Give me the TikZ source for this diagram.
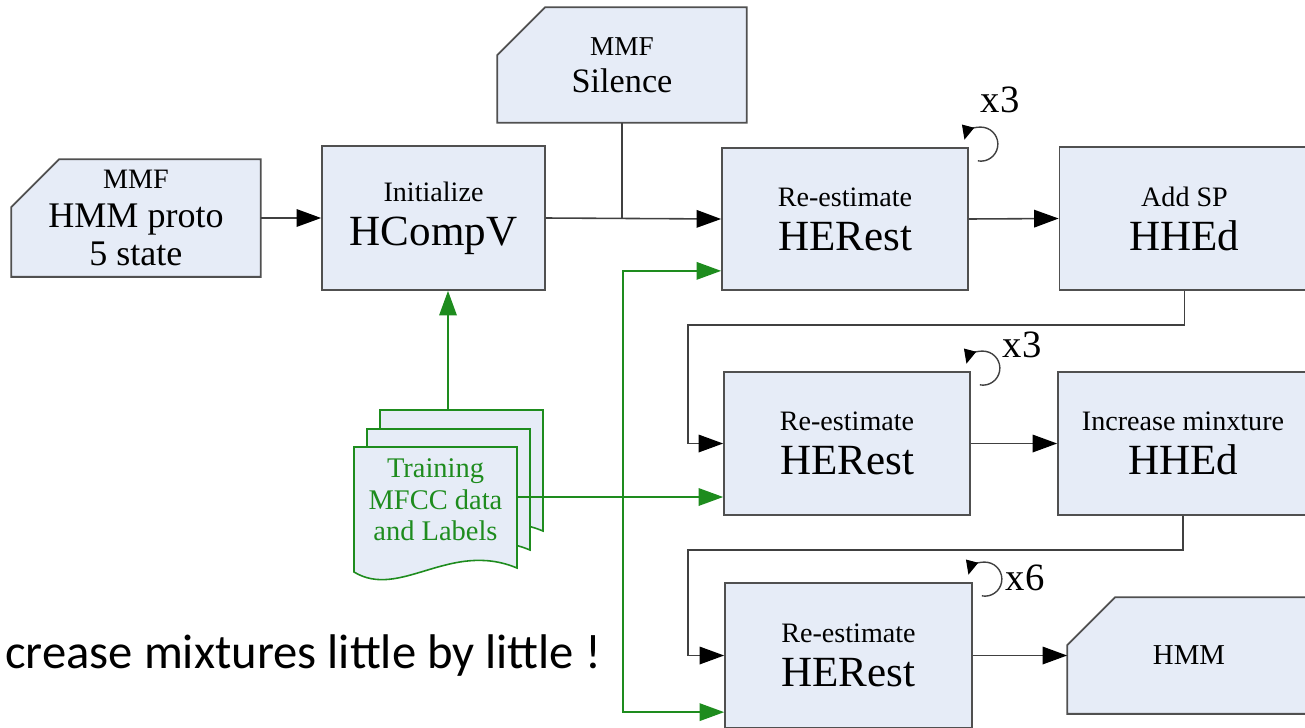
\documentclass[tikz,border=0pt]{standalone}
\usepackage{fontspec}
\setmainfont{Liberation Serif}
\newfontfamily\calibri{Carlito}
\usetikzlibrary{arrows.meta,calc,backgrounds}
\definecolor{boxfill}{RGB}{230,236,247}
\definecolor{boxline}{RGB}{80,80,80}
\definecolor{datagreen}{RGB}{30,140,30}
\newcommand{\captxt}[1]{{\fontsize{16}{18}\selectfont #1}}
\begin{document}
\begin{tikzpicture}[x=0.02cm,y=-0.02cm,
    proc/.style={draw=boxline,line width=1pt,fill=boxfill,align=center,inner sep=0pt,
        font=\fontsize{24.5}{25}\selectfont},
    store/.style={proc,draw=none,fill=none},
    storeline/.style={draw=boxline,line width=1pt,fill=boxfill},
    conn/.style={draw=black!75,line width=0.9pt},
    arr/.style={conn,-{Triangle[length=14pt,width=10pt,color=black]}},
    gline/.style={draw=datagreen,line width=0.9pt},
    garr/.style={gline,-{Triangle[length=14pt,width=10pt]}},
    page/.style={draw=datagreen,fill=boxfill,line width=0.9pt},
    repeatarc/.style={draw=black!75,line width=0.8pt,-{Triangle[length=8pt,width=7pt,color=black]}}]
    \useasboundingbox (0,0) rectangle (1305,727);
    \node[store,minimum width=4.96cm,minimum height=2.32cm,font=\fontsize{20.5}{22}\selectfont]
        (proto) at (136,218) {{\fontsize{16}{16}\selectfont MMF}\\HMM proto\\5 state};
    \node[proc,minimum width=4.46cm,minimum height=2.88cm] (init) at (433.5,218) {\captxt{Initialize}\\HCompV};
    \node[store,minimum width=4.96cm,minimum height=2.28cm,font=\fontsize{19.5}{21}\selectfont]
        (sil) at (622,65) {{\fontsize{15.5}{16}\selectfont MMF}\\Silence};
    \node[proc,minimum width=4.92cm,minimum height=2.84cm] (re1) at (845,219) {\captxt{Re-estimate}\\HERest};
    \node[proc,minimum width=5cm,minimum height=2.86cm] (hhed1) at (1184.5,218.5) {\captxt{Add SP}\\HHEd};
    \node[proc,minimum width=4.92cm,minimum height=2.86cm] (re2) at (847,443.5) {\captxt{Re-estimate}\\HERest};
    \node[proc,minimum width=5cm,minimum height=2.86cm] (hhed2) at (1183,443.5) {\captxt{Increase minxture}\\HHEd};
    \node[proc,minimum width=4.94cm,minimum height=2.9cm] (re3) at (848.5,655.5) {\captxt{Re-estimate}\\HERest};
    \node[store,minimum width=4.84cm,minimum height=2.3cm,font=\fontsize{16.4}{17}\selectfont] (hmm) at (1189,655.5) {HMM};

    \begin{scope}[on background layer]
        \foreach \s in {proto,sil,hmm}
            \draw[storeline] (\s.south west) -- ($(\s.north west)+(0,48)$) -- ($(\s.north west)+(48,0)$)
                -- (\s.north east) -- (\s.south east) -- cycle;
    \end{scope}

    \foreach \dx/\dy in {26/-37,13/-18,0/0}
        \draw[page,shift={(\dx,\dy)}] (354,447) -- (517,447) -- (517,568)
            .. controls (450,540) and (400,600) .. (354,572) -- cycle;
    \node[align=center,text=datagreen,font=\fontsize{16.2}{18}\selectfont,minimum width=3.26cm,inner sep=0pt]
        (train) at (435.5,500) {Training\\MFCC data\\and Labels};

    \coordinate (join) at (sil.south |- init.east);
    \draw[conn] (sil.south) -- (join);
    \draw[arr] (proto.east) -- (init.west);
    \draw[arr] (init.east) -- (re1.west);
    \draw[arr] (re1.east) -- (hhed1.west);
    \coordinate (bend1) at (688,325);
    \draw[arr] (hhed1.south) |- (bend1) |- (re2.west);
    \draw[arr] (re2.east) -- (hhed2.west);
    \coordinate (bend2) at (688,550);
    \draw[arr] (hhed2.south) |- (bend2) |- (re3.west);
    \draw[arr] (re3.east) -- (hmm.west);

    \coordinate (split) at (623,497);
    \coordinate (trainup) at (448,410);
    \draw[gline,line width=1.4pt] (train.east |- split) -- (split);
    \draw[garr] (trainup) -- (trainup |- init.south);
    \draw[garr] (split) |- ($(re1.south west)+(0,-20)$);
    \draw[garr] (split) -- (split -| re2.west);
    \draw[garr] (split) |- ($(re3.north west)+(0,130)$);

    \foreach \b/\t/\lx/\ly in {re1/x3/1000/100,re2/x3/1022/345,re3/x6/1025/578}{
        \draw[repeatarc] ($(\b.north east)+(12,-3)+(100:17)$) arc[start angle=100,end angle=-165,radius=17];
        \node[font=\fontsize{22}{24}\selectfont] (n\b) at (\lx,\ly) {\t};
    }

    \node[anchor=base west,inner sep=0pt,font=\calibri\fontsize{27.7}{30}\selectfont]
        (note) at (5,668) {crease mixtures little by little !};
\end{tikzpicture}
\end{document}
